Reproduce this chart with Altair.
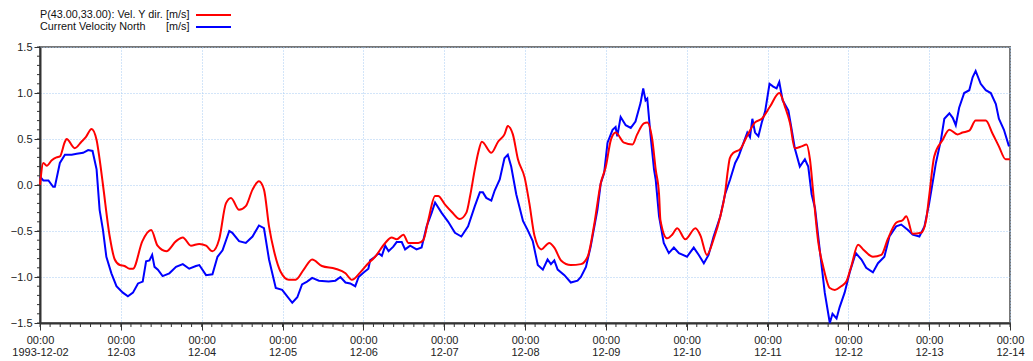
import altair as alt
import pandas as pd

START = "1993-12-02"

# hours after 1993-12-02 00:00 and velocities [m/s]
red_hours = [0.0, 1.0, 2.0, 3.5, 4.9, 5.9, 7.4, 7.9, 10.3, 12.3, 13.6, 15.3, 16.8, 17.7, 18.7, 20.7, 22.2, 23.7,
             25.1, 26.6, 27.6, 30.4, 33.0, 34.9, 37.5, 40.4, 42.4, 44.8, 47.3, 49.3, 51.2, 53.2, 55.2, 56.7,
             59.1, 61.1, 63.1, 65.0, 66.5, 68.0, 69.5, 71.4, 73.9, 75.9, 78.3, 80.8, 83.7, 87.7, 90.7, 92.6,
             95.1, 97.0, 99.5, 102.5, 104.4, 105.9, 107.9, 109.4, 112.3, 113.8, 115.3, 117.3, 118.2, 120.2,
             122.2, 124.6, 126.6, 127.7, 129.1, 130.1, 131.2, 134.0, 136.0, 137.9, 138.9, 140.4, 141.9, 143.9,
             145.3, 146.8, 148.8, 151.2, 152.7, 154.7, 157.6, 160.6, 162.6, 164.5, 166.5, 168.0, 169.5, 170.9,
             173.4, 175.9, 177.3, 179.3, 180.3, 181.8, 182.8, 183.8, 184.2, 186.2, 187.7, 189.2, 191.6, 194.6,
             196.1, 198.0, 200.0, 202.0, 203.4, 204.2, 204.8, 205.9, 207.9, 209.9, 212.3, 214.3, 216.7, 219.5,
             221.2, 222.7, 224.1, 226.1, 227.6, 228.6, 229.6, 231.1, 232.5, 234.5, 236.0, 237.9, 239.4, 240.9,
             242.9, 244.4, 247.3, 249.8, 251.7, 254.2, 256.2, 257.2, 259.1, 261.6, 263.1, 264.0, 265.5, 268.0,
             270.0, 272.4, 273.9, 275.9, 277.8, 280.8, 282.8, 284.7, 286.7, 288.0]
red_vals = [0.00, 0.24, 0.21, 0.27, 0.30, 0.31, 0.47, 0.50, 0.40, 0.47, 0.52, 0.61, 0.49, 0.28, 0.00, -0.56, -0.81, -0.87,
            -0.88, -0.91, -0.91, -0.61, -0.49, -0.66, -0.72, -0.61, -0.57, -0.66, -0.64, -0.66, -0.72, -0.59, -0.20, -0.14,
            -0.27, -0.23, -0.05, 0.04, -0.05, -0.45, -0.72, -0.94, -1.03, -1.03, -0.92, -0.81, -0.88, -0.91, -0.96, -1.03,
            -0.95, -0.87, -0.78, -0.63, -0.57, -0.59, -0.54, -0.63, -0.63, -0.60, -0.38, -0.12, -0.12, -0.21,
            -0.29, -0.37, -0.30, -0.12, 0.17, 0.35, 0.47, 0.35, 0.47, 0.55, 0.64, 0.55, 0.28, 0.08,
            -0.20, -0.55, -0.70, -0.63, -0.68, -0.82, -0.87, -0.86, -0.78, -0.44, 0.02, 0.20, 0.49, 0.57,
            0.46, 0.44, 0.55, 0.67, 0.68, 0.49, 0.17, -0.10, -0.38, -0.58, -0.54, -0.47, -0.59, -0.47,
            -0.55, -0.76, -0.59, -0.34, -0.09, 0.15, 0.29, 0.35, 0.39, 0.53, 0.68, 0.72, 0.85, 1.00,
            0.85, 0.67, 0.40, 0.42, 0.44, 0.28, -0.09, -0.63, -0.88, -1.12, -1.14, -1.10, -1.05, -0.88,
            -0.65, -0.70, -0.78, -0.76, -0.59, -0.41, -0.38, -0.34, -0.53, -0.52, -0.38, -0.12, 0.31, 0.49,
            0.60, 0.55, 0.57, 0.59, 0.70, 0.70, 0.56, 0.42, 0.28, 0.28]

blue_hours = [0.0, 1.0, 2.5, 3.9, 4.4, 5.9, 7.4, 9.4, 10.9, 12.8, 14.3, 15.6, 16.8, 17.7, 18.7, 19.7, 21.2, 22.7,
              24.6, 26.1, 27.6, 29.1, 30.5, 31.5, 32.5, 33.3, 34.0, 35.0, 36.4, 38.4, 40.4, 42.4, 44.3, 46.3,
              47.3, 49.3, 51.2, 52.7, 54.2, 56.2, 57.1, 59.1, 61.1, 63.1, 65.0, 66.5, 68.0, 70.0, 71.9, 73.4,
              74.9, 76.4, 77.8, 79.3, 80.8, 82.8, 85.7, 87.7, 89.2, 90.7, 92.1, 93.6, 94.6, 96.1, 97.5, 98.0,
              99.5, 100.5, 101.5, 102.5, 103.5, 104.9, 105.9, 107.4, 108.4, 109.9, 111.8, 113.3, 114.8, 116.3,
              117.3, 119.2, 121.2, 123.2, 125.1, 127.1, 129.1, 130.6, 131.5, 132.5, 134.0, 135.0, 136.5, 137.9,
              138.9, 139.9, 141.4, 143.4, 144.8, 146.3, 147.8, 149.3, 150.7, 151.7, 152.7, 153.7, 155.7, 157.6,
              159.6, 160.6, 162.1, 163.5, 165.5, 166.5, 167.5, 168.5, 170.0, 170.9, 171.4, 172.4, 173.9, 175.4,
              176.8, 178.3, 179.1, 179.8, 180.3, 181.3, 182.3, 182.8, 183.8, 185.2, 186.7, 188.2, 189.7, 192.1,
              194.1, 195.6, 197.1, 198.5, 200.0, 202.0, 203.4, 204.9, 206.4, 207.4, 208.9, 210.0, 210.8, 211.5,
              212.3, 213.3, 214.3, 215.3, 216.6, 217.7, 218.7, 219.5, 220.5, 222.2, 223.2, 224.1, 225.6, 227.1,
              228.1, 229.1, 230.1, 231.5, 233.0, 234.5, 235.3, 236.5, 237.4, 238.9, 240.4, 242.2, 243.9, 245.3,
              247.3, 248.8, 250.7, 252.2, 254.2, 255.7, 257.7, 259.1, 261.1, 262.6, 264.0, 265.5, 266.0, 267.5,
              268.5, 270.0, 271.0, 271.9, 272.9, 274.4, 275.9, 276.9, 277.8, 279.3, 280.8, 282.3, 283.8, 284.7,
              286.2, 287.7]
blue_vals = [0.09, 0.05, 0.05, -0.02, -0.02, 0.24, 0.33, 0.33, 0.34, 0.35, 0.38, 0.37, 0.17, -0.27, -0.49, -0.78, -0.96, -1.10,
             -1.17, -1.21, -1.17, -1.07, -1.05, -0.83, -0.82, -0.76, -0.89, -0.92, -0.99, -0.96, -0.89, -0.86, -0.91, -0.88,
             -0.87, -0.98, -0.97, -0.78, -0.71, -0.50, -0.52, -0.61, -0.63, -0.56, -0.44, -0.47, -0.81, -1.12, -1.14, -1.21,
             -1.28, -1.22, -1.08, -1.05, -1.01, -1.04, -1.05, -1.04, -1.00, -1.06, -1.07, -1.10, -1.00, -0.95, -0.91, -0.82,
             -0.78, -0.74, -0.77, -0.66, -0.72, -0.67, -0.62, -0.62, -0.70, -0.66, -0.70, -0.68, -0.45, -0.30,
             -0.19, -0.30, -0.40, -0.52, -0.56, -0.45, -0.23, -0.08, -0.08, -0.14, -0.17, -0.06, 0.06, 0.29,
             0.33, 0.20, -0.10, -0.39, -0.49, -0.61, -0.87, -0.92, -0.81, -0.86, -0.82, -0.92, -0.98, -1.06,
             -1.04, -1.00, -0.89, -0.67, -0.27, 0.02, 0.13, 0.46, 0.60, 0.63, 0.53, 0.74, 0.65, 0.62,
             0.69, 0.89, 1.05, 0.92, 0.94, 0.53, 0.17, 0.06, -0.34, -0.63, -0.74, -0.68, -0.74, -0.78,
             -0.68, -0.76, -0.85, -0.76, -0.56, -0.34, -0.10, 0.06, 0.24, 0.31, 0.46, 0.57, 0.52, 0.72,
             0.57, 0.53, 0.68, 0.80, 1.10, 1.07, 1.05, 1.12, 0.92, 0.81, 0.60, 0.40, 0.20, 0.28,
             0.20, -0.10, -0.25, -0.70, -1.17, -1.50, -1.40, -1.45, -1.33, -1.17, -0.95, -0.74, -0.81, -0.90,
             -0.95, -0.85, -0.78, -0.56, -0.45, -0.43, -0.49, -0.54, -0.56, -0.45, -0.20, 0.13, 0.24, 0.49,
             0.72, 0.78, 0.73, 0.65, 0.84, 1.00, 1.03, 1.17, 1.24, 1.10, 1.03, 1.00, 0.88, 0.72,
             0.60, 0.42]

series_names = ["P(43.00,33.00): Vel. Y dir.", "Current Velocity North"]
unit_label = "[m/s]"
series_colors = ["#ff0000", "#0000ff"]

# axis tick positions: daily majors / 3-hourly minors; 0.5 majors / 0.1 minors
N_DAYS = 12
y_major = [round(-1.5 + 0.5 * i, 1) for i in range(7)]
y_minor = [round(-1.5 + 0.1 * i, 1) for i in range(31)]

FONT = "Liberation Sans"
AXC = "#333333"
GRIDC = "#a6cbf2"
W, H = 970, 276

t0 = pd.Timestamp(START)
red_df = pd.DataFrame({"time": t0 + pd.to_timedelta(red_hours, unit="h"), "value": red_vals})
blue_df = pd.DataFrame({"time": t0 + pd.to_timedelta(blue_hours, unit="h"), "value": blue_vals})

day_ts = [t0 + pd.Timedelta(days=i) for i in range(N_DAYS + 1)]
x_major = [alt.DateTime(year=t.year, month=t.month, date=t.day, hours=0) for t in day_ts]
minor_x_df = pd.DataFrame({"time": [t0 + pd.Timedelta(hours=3 * i) for i in range(N_DAYS * 8 + 1)]})
minor_y_df = pd.DataFrame({"value": y_minor})

x_scale = alt.Scale(domain=[x_major[0], x_major[-1]], nice=False)
y_scale = alt.Scale(domain=[-1.5, 1.5], nice=False, zero=False)

x_enc = alt.X(
    "time:T",
    scale=x_scale,
    axis=alt.Axis(
        title=None,
        values=x_major,
        labelExpr=("[timeFormat(datum.value, '%H:%M'), "
                   "timeFormat(datum.value, '%d') == '02' ? timeFormat(datum.value, '%Y-%m-%d') : timeFormat(datum.value, '%m-%d')]"),
        labelOverlap=False,
        labelFlush=False,
        labelFont=FONT, labelFontSize=11, labelColor="#222222", labelPadding=4, labelLineHeight=12,
        grid=True, gridColor=GRIDC, gridDash=[1, 2], gridWidth=1,
        tickSize=7, tickColor=AXC, tickWidth=1,
        domainColor=AXC, domainWidth=2,
    ),
)
y_enc = alt.Y(
    "value:Q",
    scale=y_scale,
    axis=alt.Axis(
        title=None,
        values=y_major,
        format=".1f",
        labelOverlap=False,
        labelFlush=False,
        labelFont=FONT, labelFontSize=11, labelColor="#222222", labelPadding=2,
        grid=True, gridColor=GRIDC, gridDash=[1, 2], gridWidth=1,
        tickSize=6, tickColor=AXC, tickWidth=1,
        domainColor=AXC, domainWidth=2,
    ),
)

blue_line = alt.Chart(blue_df).mark_line(color=series_colors[1], strokeWidth=2).encode(x=x_enc, y=y_enc)
red_line = alt.Chart(red_df).mark_line(color=series_colors[0], strokeWidth=2, interpolate="monotone").encode(
    x="time:T", y="value:Q")

minor_x = alt.Chart(minor_x_df).mark_rule(color=AXC, strokeWidth=1).encode(
    x="time:T", y=alt.value(H), y2=alt.value(H + 4))
minor_y = alt.Chart(minor_y_df).mark_rule(color=AXC, strokeWidth=1).encode(
    y="value:Q", x=alt.value(-3), x2=alt.value(0))

one = pd.DataFrame({"k": [0]})
leg_style = dict(align="left", baseline="middle", font=FONT, fontSize=10.8, color="#111111")
leg1 = alt.Chart(one).mark_text(**leg_style).encode(x=alt.value(0), y=alt.value(-32), text=alt.value(series_names[0]))
leg1u = alt.Chart(one).mark_text(**leg_style).encode(x=alt.value(126), y=alt.value(-32), text=alt.value(unit_label))
leg2 = alt.Chart(one).mark_text(**leg_style).encode(x=alt.value(0), y=alt.value(-20), text=alt.value(series_names[1]))
leg2u = alt.Chart(one).mark_text(**leg_style).encode(x=alt.value(126), y=alt.value(-20), text=alt.value(unit_label))
sw1 = alt.Chart(one).mark_rule(color=series_colors[0], strokeWidth=2).encode(x=alt.value(156), x2=alt.value(191), y=alt.value(-32))
sw2 = alt.Chart(one).mark_rule(color=series_colors[1], strokeWidth=2).encode(x=alt.value(156), x2=alt.value(191), y=alt.value(-20))

chart = alt.layer(blue_line, red_line, minor_x, minor_y, leg1, leg1u, leg2, leg2u, sw1, sw2).properties(
    width=W, height=H,
    padding={"left": 32, "top": 39, "right": 15, "bottom": 36},
    autosize=alt.AutoSizeParams(type="none"),
).configure_view(stroke="#777777", strokeWidth=2)

chart.save("out.html", embed_options={"renderer": "svg", "actions": False})
